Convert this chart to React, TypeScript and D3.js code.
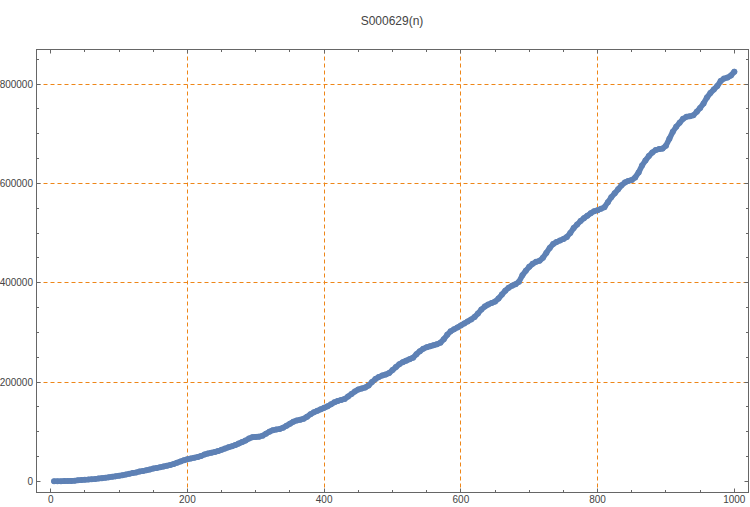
import React from "react";
import * as d3 from "d3";

const title = "S000629(n)";
const xTickLabels = [0, 200, 400, 600, 800, 1000];
const yTickLabels = [0, 200000, 400000, 600000, 800000];
const xGrid = [200, 400, 600, 800];
const yGrid = [200000, 400000, 600000, 800000];

// n = 5, 10, ..., 1000 (step 5)
const nStep = 5;
const values = [
  30, 100, 200, 400, 600, 900, 1300, 2000, 2600, 3200,
  3600, 4200, 4800, 5600, 6400, 7200, 8000, 9000, 10000, 11200,
  12400, 13600, 15000, 16600, 18000, 19600, 21000, 22400, 24000, 25600,
  27000, 28400, 30000, 31500, 33000, 35000, 37600, 40000, 42500, 44500,
  46000, 47500, 49000, 51000, 54000, 56000, 57500, 59000, 61000, 63500,
  66000, 68500, 70500, 73000, 76000, 79000, 82000, 86000, 89000, 89500,
  90000, 92000, 96000, 100000, 103000, 104500, 105500, 108000, 112000, 116000,
  120000, 122500, 124000, 126000, 130000, 135000, 139000, 142000, 145000, 148000,
  151000, 155000, 159000, 162000, 164000, 166000, 171000, 176000, 181000, 185000,
  187000, 189000, 193000, 200000, 206000, 210000, 213000, 215000, 218000, 224000,
  230000, 236000, 240000, 243000, 246000, 249000, 256000, 262000, 267000, 270000,
  272000, 274000, 276000, 279000, 286000, 295000, 302000, 306000, 310000, 314000,
  318000, 322000, 326000, 331000, 338000, 346000, 352000, 356000, 359000, 362000,
  368000, 376000, 384000, 390000, 394000, 397000, 402000, 415000, 424000, 432000,
  438000, 442000, 444000, 450000, 460000, 470000, 478000, 482000, 485000, 488000,
  492000, 500000, 510000, 517000, 524000, 530000, 535000, 540000, 544000, 546000,
  549000, 552000, 562000, 572000, 580000, 588000, 596000, 602000, 605000, 607000,
  612000, 622000, 636000, 646000, 655000, 662000, 667000, 669000, 670000, 676000,
  690000, 704000, 714000, 722000, 730000, 734000, 735000, 737000, 744000, 752000,
  761000, 773000, 782000, 789000, 796000, 806000, 811000, 813000, 817000, 825000,
];

const W = 750;
const H = 507;
const left = 36.5, right = 748.5, top = 49.5, bottom = 492.5;
const axisColor = "#666666";
const textColor = "#444444";
const gridColor = "rgb(238,134,24)";
const pointColor = "rgb(94,129,181)";
const font = "'Liberation Sans', Arial, sans-serif";

const crisp = (v: number) => Math.floor(v) + 0.5;

export default function App() {
  const x = d3.scaleLinear().domain([-20, 1020]).range([37, 748]);
  const y = d3.scaleLinear().domain([-21500, 870000]).range([492, 49.3]);

  const xMinor = d3.range(0, 1001, 50).filter((v) => v % 200 !== 0);
  const yMinor = d3.range(0, 850001, 50000).filter((v) => v % 200000 !== 0);
  const pts = values.map((v, i) => ({ n: (i + 1) * nStep, v }));
  const line = d3
    .line<{ n: number; v: number }>()
    .x((d) => x(d.n))
    .y((d) => y(d.v));

  return (
    <svg width={W} height={H} style={{ position: "absolute", left: 0, top: 0, background: "#fff" }}>
      <rect x={0} y={0} width={W} height={H} fill="#fff" />
      <text x={392} y={25} textAnchor="middle" fontFamily={font} fontSize={12} fill={textColor}>
        {title}
      </text>
      {/* grid */}
      {xGrid.map((g) => (
        <line key={"gx" + g} x1={crisp(x(g))} x2={crisp(x(g))} y1={top} y2={bottom} stroke={gridColor} strokeWidth={1} strokeDasharray="4,3" />
      ))}
      {yGrid.map((g) => (
        <line key={"gy" + g} x1={left} x2={right} y1={crisp(y(g))} y2={crisp(y(g))} stroke={gridColor} strokeWidth={1} strokeDasharray="4,3" />
      ))}
      {/* ticks */}
      {xTickLabels.map((t) => (
        <g key={"xt" + t}>
          <line x1={crisp(x(t))} x2={crisp(x(t))} y1={bottom} y2={bottom - 4} stroke={axisColor} />
          <line x1={crisp(x(t))} x2={crisp(x(t))} y1={top} y2={top + 4} stroke={axisColor} />
          <text x={x(t)} y={502.5} textAnchor="middle" fontFamily={font} fontSize={10} fill={textColor}>
            {t}
          </text>
        </g>
      ))}
      {xMinor.map((t) => (
        <g key={"xm" + t}>
          <line x1={crisp(x(t))} x2={crisp(x(t))} y1={bottom} y2={bottom - 2.5} stroke={axisColor} />
          <line x1={crisp(x(t))} x2={crisp(x(t))} y1={top} y2={top + 2.5} stroke={axisColor} />
        </g>
      ))}
      {yTickLabels.map((t) => (
        <g key={"yt" + t}>
          <line x1={left} x2={left + 4} y1={crisp(y(t))} y2={crisp(y(t))} stroke={axisColor} />
          <line x1={right} x2={right - 4} y1={crisp(y(t))} y2={crisp(y(t))} stroke={axisColor} />
          <text x={33} y={y(t) + 3.6} textAnchor="end" fontFamily={font} fontSize={10} fill={textColor}>
            {t}
          </text>
        </g>
      ))}
      {yMinor.map((t) => (
        <g key={"ym" + t}>
          <line x1={left} x2={left + 2.5} y1={crisp(y(t))} y2={crisp(y(t))} stroke={axisColor} />
          <line x1={right} x2={right - 2.5} y1={crisp(y(t))} y2={crisp(y(t))} stroke={axisColor} />
        </g>
      ))}
      {/* points */}
      <path d={line(pts) || ""} fill="none" stroke={pointColor} strokeWidth={5.6} strokeLinejoin="round" strokeLinecap="round" />
      {pts.map((p) => (
        <circle key={"p" + p.n} cx={x(p.n)} cy={y(p.v)} r={3} fill={pointColor} />
      ))}
      {/* frame */}
      <rect x={left} y={top} width={right - left} height={bottom - top} fill="none" stroke={axisColor} strokeWidth={1} />
    </svg>
  );
}
